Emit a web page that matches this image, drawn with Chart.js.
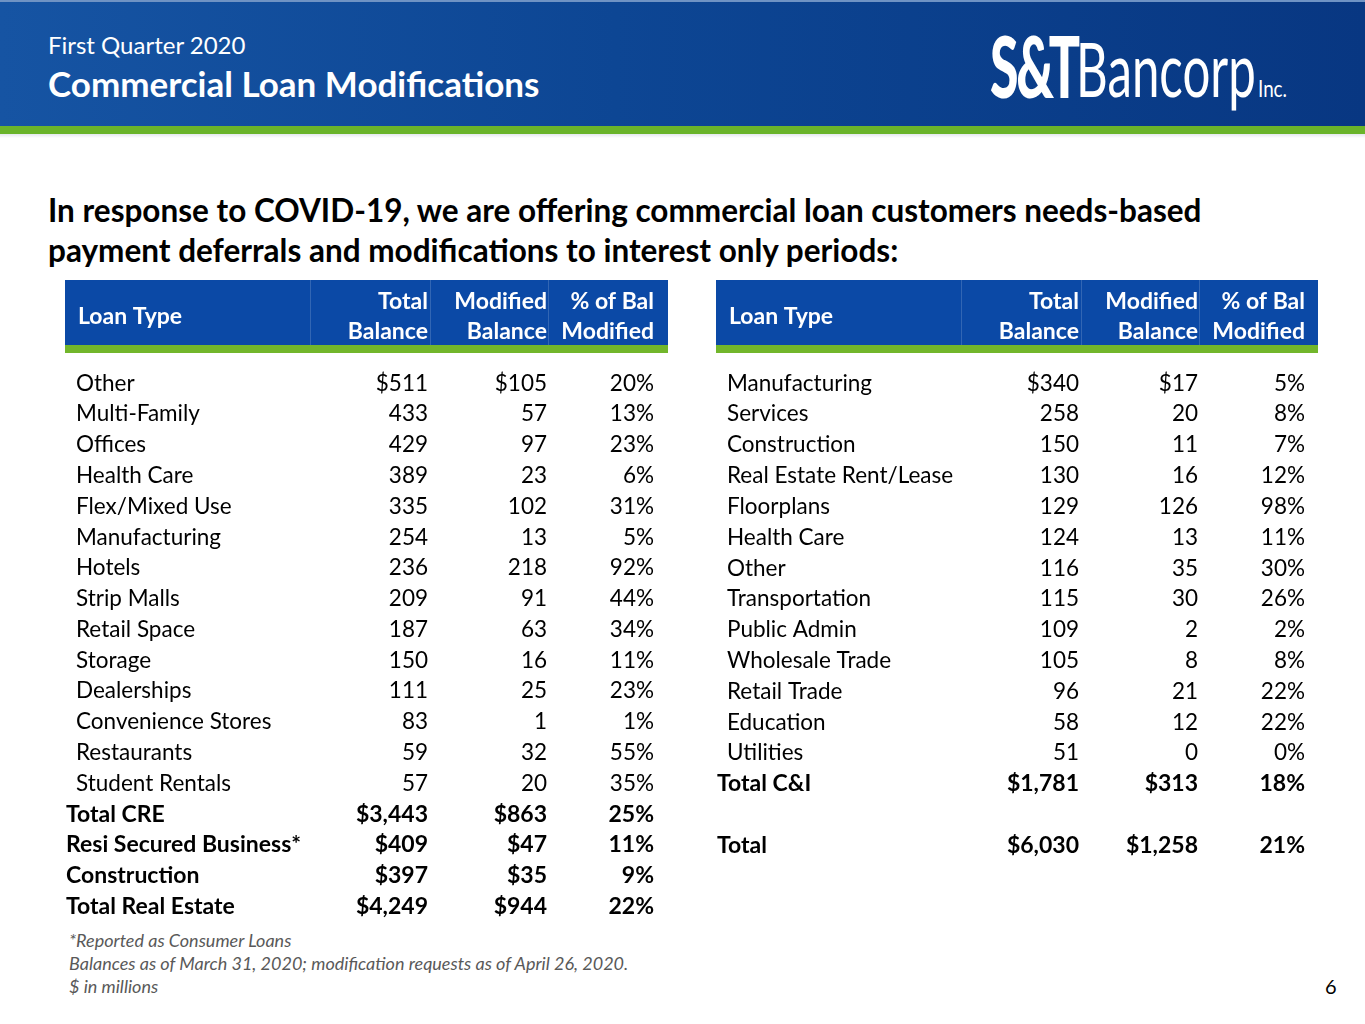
<!DOCTYPE html>
<html>
<head>
<meta charset="utf-8">
<script src="https://cdn.jsdelivr.net/npm/chart.js@4.4.1/dist/chart.umd.min.js"></script>
<style>
  html, body { margin: 0; padding: 0; background: #fff; }
  body { width: 1365px; height: 1024px; position: relative; overflow: hidden; font-family: Lato, "Open Sans", sans-serif; }
  .band { position: absolute; left: 0; top: 0; width: 1365px; height: 126px;
          background: linear-gradient(90deg, #1654a3 0%, #0d4694 45%, #083782 100%);
          border-top: 2px solid #6f93c4; box-sizing: border-box; }
  .green { position: absolute; left: 0; top: 126px; width: 1365px; height: 8px; background: #6ab42a; }
  .shade { position: absolute; left: 0; top: 134px; width: 1365px; height: 4px;
           background: linear-gradient(#e4e8ee, #fff); }
  .abs { position: absolute; white-space: nowrap; line-height: 1; }
  #quarter { left: 48px; top: 33px; color: #fff; font-size: 24px; }
  #slideTitle { left: 48px; top: 66px; color: #fff; font-size: 35px; font-weight: bold; }
  .logo { color: #fff; transform-origin: 0 0; }
  #logoST { left: 990px; top: 22px; font-size: 86px; font-weight: 900; letter-spacing: -4px; }
  #logoB { left: 1076px; top: 30px; font-size: 76px; }
  #logoInc { left: 1258px; top: 76px; font-size: 24px; }
  #lead { left: 48px; top: 190px; font-size: 31.5px; font-weight: bold; color: #000; line-height: 40px; }
  canvas { position: absolute; }
  #creChart { left: 65px; top: 280px; }
  #ciChart { left: 716px; top: 280px; }
  .note { left: 69px; font-size: 18px; font-style: italic; color: #595959; }
  #page { left: 1325px; top: 976px; font-size: 20px; color: #000; }
</style>
</head>
<body>
<div class="band"></div>
<div class="green"></div>
<div class="shade"></div>
<div class="abs" id="quarter">First Quarter 2020</div>
<div class="abs" id="slideTitle">Commercial Loan Modifications</div>
<div class="abs logo" id="logoST">S&amp;T</div>
<div class="abs logo" id="logoB">Bancorp</div>
<div class="abs logo" id="logoInc">Inc.</div>
<div class="abs" id="lead">In response to COVID-19, we are offering commercial loan customers needs-based<br>payment deferrals and modifications to interest only periods:</div>

<canvas id="creChart" width="603" height="642"></canvas>
<canvas id="ciChart" width="602" height="581"></canvas>

<div class="abs note" style="top:931px">*Reported as Consumer Loans</div>
<div class="abs note" style="top:954px">Balances as of March 31, 2020; modification requests as of April 26, 2020.</div>
<div class="abs note" style="top:977px">$ in millions</div>
<div class="abs" id="page">6</div>

<script>
// Table data, $ in millions
const colHeads = [['Total', 'Balance'], ['Modified', 'Balance'], ['% of Bal', 'Modified']];

const creTypes = ['Other', 'Multi-Family', 'Offices', 'Health Care', 'Flex/Mixed Use', 'Manufacturing',
    'Hotels', 'Strip Malls', 'Retail Space', 'Storage', 'Dealerships', 'Convenience Stores',
    'Restaurants', 'Student Rentals', 'Total CRE', 'Resi Secured Business*', 'Construction',
    'Total Real Estate'];
const creTotal = [511, 433, 429, 389, 335, 254, 236, 209, 187, 150, 111, 83, 59, 57, 3443, 409, 397, 4249];
const creModified = [105, 57, 97, 23, 102, 13, 218, 91, 63, 16, 25, 1, 32, 20, 863, 47, 35, 944];
const crePct = [20, 13, 23, 6, 31, 5, 92, 44, 34, 11, 23, 1, 55, 35, 25, 11, 9, 22];
const creSummaryFrom = 14;

const ciTypes = ['Manufacturing', 'Services', 'Construction', 'Real Estate Rent/Lease', 'Floorplans',
    'Health Care', 'Other', 'Transportation', 'Public Admin', 'Wholesale Trade', 'Retail Trade',
    'Education', 'Utilities', 'Total C&I', '', 'Total'];
const ciTotal = [340, 258, 150, 130, 129, 124, 116, 115, 109, 105, 96, 58, 51, 1781, null, 6030];
const ciModified = [17, 20, 11, 16, 126, 13, 35, 30, 2, 8, 21, 12, 0, 313, null, 1258];
const ciPct = [5, 8, 7, 12, 98, 11, 30, 26, 2, 8, 22, 22, 0, 18, null, 21];
const ciSummaryFrom = 13;

const FONT = 'Lato, "Open Sans", sans-serif';
const HEAD_H = 65;     // blue header height
const GREEN_H = 8;     // green rule under header
const TOP_PAD = 88;    // space above first row band
const COL_RIGHT = [363, 482, 589];
const DIVIDERS = [245, 365, 483];

function fmtMoney(v, withSign) {
    return (withSign ? '$' : '') + v.toLocaleString('en-US');
}

// draws the header band and every cell at the category scale's row positions
const cellPlugin = {
    id: 'cells',
    beforeDraw(chart) {
        const ctx = chart.ctx;
        ctx.save();
        ctx.fillStyle = '#0b49a6';
        ctx.fillRect(0, 0, chart.width, HEAD_H);
        ctx.fillStyle = '#72b62b';
        ctx.fillRect(0, HEAD_H, chart.width, GREEN_H);
        ctx.strokeStyle = 'rgba(255,255,255,0.16)';
        ctx.lineWidth = 1;
        DIVIDERS.forEach(x => {
            ctx.beginPath();
            ctx.moveTo(x + 0.5, 0);
            ctx.lineTo(x + 0.5, HEAD_H);
            ctx.stroke();
        });
        ctx.fillStyle = '#fff';
        ctx.font = 'bold 23px ' + FONT;
        ctx.textBaseline = 'middle';
        ctx.textAlign = 'left';
        ctx.fillText('Loan Type', 13, 37);
        ctx.textAlign = 'right';
        chart.data.datasets.forEach((ds, i) => {
            ctx.fillText(ds.head[0], COL_RIGHT[i], 22);
            ctx.fillText(ds.head[1], COL_RIGHT[i], 52);
        });
        ctx.restore();
    },
    afterDraw(chart) {
        const ctx = chart.ctx;
        const y = chart.scales.y;
        const summaryFrom = chart.options.plugins.cells.summaryFrom;
        ctx.save();
        ctx.fillStyle = '#000';
        ctx.textBaseline = 'middle';
        chart.data.labels.forEach((label, i) => {
            const py = y.getPixelForValue(i);
            const bold = i >= summaryFrom;
            ctx.font = bold ? 'bold 23px ' + FONT : '22.5px ' + FONT;
            ctx.textAlign = 'left';
            ctx.fillText(label, bold ? 1 : 11, py);
            ctx.textAlign = 'right';
            chart.data.datasets.forEach((ds, c) => {
                const v = ds.data[i];
                if (v === null) return;
                const txt = ds.pct ? v + '%' : fmtMoney(v, i === 0 || bold);
                ctx.fillText(txt, COL_RIGHT[c], py);
            });
        });
        ctx.restore();
    }
};

function makeTable(id, labels, total, modified, pct, summaryFrom) {
    const sets = [total, modified, pct].map((data, i) => ({
        label: colHeads[i].join(' '),
        head: colHeads[i],
        pct: i === 2,
        data: data,
        backgroundColor: 'rgba(0,0,0,0)',
        borderWidth: 0
    }));
    return new Chart(document.getElementById(id), {
        type: 'bar',
        data: { labels: labels, datasets: sets },
        options: {
            indexAxis: 'y',
            responsive: false,
            animation: false,
            events: [],
            layout: { padding: { top: TOP_PAD, bottom: 0, left: 0, right: 0 } },
            scales: {
                y: { type: 'category', offset: true, display: false, grid: { display: false } },
                x: { display: false, min: 0 }
            },
            plugins: {
                legend: { display: false },
                tooltip: { enabled: false },
                cells: { summaryFrom: summaryFrom }
            }
        },
        plugins: [cellPlugin]
    });
}

function fitWidth(id, w) {
    const el = document.getElementById(id);
    el.style.transform = 'scaleX(' + (w / el.offsetWidth) + ')';
}

function init() {
    fitWidth('logoST', 88);
    fitWidth('logoB', 180);
    fitWidth('logoInc', 29);
    makeTable('creChart', creTypes, creTotal, creModified, crePct, creSummaryFrom);
    makeTable('ciChart', ciTypes, ciTotal, ciModified, ciPct, ciSummaryFrom);
}

if (document.fonts && document.fonts.ready) {
    document.fonts.load('22px Lato').then(() => document.fonts.load('bold 22px Lato')).then(init, init);
} else {
    init();
}
</script>
</body>
</html>
